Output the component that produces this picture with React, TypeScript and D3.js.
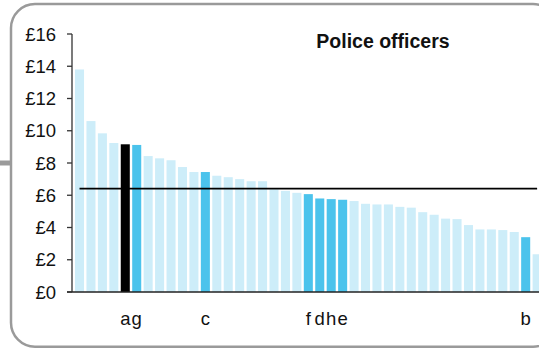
import React from "react";
import * as d3 from "d3";

const values: number[] = [
  13.8, 10.6, 9.84, 9.24, 9.16, 9.12, 8.43, 8.29, 8.17, 7.75, 7.44, 7.44, 7.21,
  7.12, 7.0, 6.87, 6.87, 6.37, 6.27, 6.15, 6.07, 5.8, 5.76, 5.72, 5.64, 5.47,
  5.43, 5.43, 5.28, 5.23, 4.95, 4.79, 4.55, 4.52, 4.15, 3.88, 3.88, 3.84, 3.72,
  3.4, 2.34,
];
// highlight type per bar: 0 = other, 1 = highlighted, 2 = selected
const kinds: number[] = [
  0, 0, 0, 0, 2, 1, 0, 0, 0, 0, 0, 1, 0, 0, 0, 0, 0, 0, 0, 0, 1, 1, 1, 1, 0, 0,
  0, 0, 0, 0, 0, 0, 0, 0, 0, 0, 0, 0, 0, 1, 0,
];
const labels: string[] = [
  "", "", "", "", "a", "g", "", "", "", "", "", "c", "", "", "", "", "", "", "",
  "", "f", "d", "h", "e", "", "", "", "", "", "", "", "", "", "", "", "", "", "",
  "", "b", "",
];
const yTicks: number[] = [0, 2, 4, 6, 8, 10, 12, 14, 16];
const average = 6.41;
const title = "Police officers";

const W = 539;
const H = 348;
const font = "'Liberation Sans', Arial, sans-serif";
const colors = ["#cdedf9", "#4bc3ec", "#000000"];

export default function App() {
  const y = d3.scaleLinear().domain([0, 16]).range([292, 34]);
  const idx = values.map((_, i) => String(i));
  const step = 11.44;
  const x = d3
    .scaleBand<string>()
    .domain(idx)
    .range([73.8, 73.8 + step * values.length])
    .paddingInner(0.21)
    .paddingOuter(0.105);
  const bw = x.bandwidth();
  const axisX = 72;
  const lineY = y(average);

  return (
    <svg
      width={W}
      height={H}
      style={{ position: "absolute", left: 0, top: 0, overflow: "hidden" }}
      fontFamily={font}
    >
      <rect width={W} height={H} fill="#ffffff" />
      <line x1={0} x2={11} y1={163} y2={163} stroke="#9a9a9a" strokeWidth={5} />
      <rect
        x={11}
        y={4}
        width={546}
        height={342.7}
        rx={24}
        ry={24}
        fill="#ffffff"
        stroke="#9a9a9a"
        strokeWidth={2.5}
      />
      {values.map((v, i) => (
        <rect
          key={i}
          x={x(String(i))}
          y={y(v)}
          width={bw}
          height={y(0) - y(v)}
          fill={colors[kinds[i]]}
        />
      ))}
      <line
        x1={x("0")! + bw / 2}
        x2={x(String(values.length - 1))! + bw / 2}
        y1={lineY}
        y2={lineY}
        stroke="#000"
        strokeWidth={1.7}
      />
      <line x1={axisX} x2={axisX} y1={y(16)} y2={y(0)} stroke="#333" strokeWidth={1.3} />
      <line x1={axisX - 5} x2={W} y1={y(0)} y2={y(0)} stroke="#222" strokeWidth={1.3} />
      {yTicks.map((t) => (
        <g key={t}>
          <line x1={axisX - 5} x2={axisX} y1={y(t)} y2={y(t)} stroke="#333" strokeWidth={1.3} />
          <text
            x={56}
            y={y(t)}
            dy="0.36em"
            textAnchor="end"
            fontSize={18.5}
            fill="#111"
          >
            {"£" + t}
          </text>
        </g>
      ))}
      {labels.map((l, i) =>
        l ? (
          <text
            key={"l" + i}
            x={x(String(i))! + bw / 2}
            y={324.5}
            textAnchor="middle"
            fontSize={18.5}
            fill="#111"
          >
            {l}
          </text>
        ) : null
      )}
      <text x={383} y={48.3} textAnchor="middle" fontSize={19.5} fontWeight="bold" fill="#111">
        {title}
      </text>
    </svg>
  );
}
